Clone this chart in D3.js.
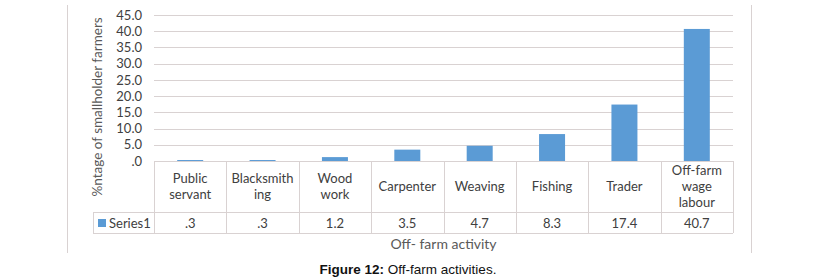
<!DOCTYPE html>
<html>
<head>
<meta charset="utf-8">
<script src="https://cdn.jsdelivr.net/npm/d3@7"></script>
<style>
  html, body { margin: 0; padding: 0; background: #fff; }
  svg { display: block; }
</style>
</head>
<body>
<svg id="chart" width="820" height="280"></svg>
<script>
const categories = [
  ["Public", "servant"],
  ["Blacksmith", "ing"],
  ["Wood", "work"],
  ["Carpenter"],
  ["Weaving"],
  ["Fishing"],
  ["Trader"],
  ["Off-farm", "wage", "labour"]
];
const values = [0.3, 0.3, 1.2, 3.5, 4.7, 8.3, 17.4, 40.7];
const yTicks = [0, 5, 10, 15, 20, 25, 30, 35, 40, 45];
const seriesName = "Series1";
const yTitle = "%ntage of smallholder farmers";
const xTitle = "Off- farm activity";
const captionBold = "Figure 12:";
const captionRest = " Off-farm activities.";

const svg = d3.select("#chart");
const font = "Lato, 'Open Sans', sans-serif";
const gridColor = "#d9d2d2";
const barColor = "#5b9bd5";

const plot = { left: 154, right: 733, top: 15, bottom: 161 };
const row1Bottom = 212, row2Bottom = 233, legendLeft = 93;

const x = d3.scaleBand().domain(d3.range(categories.length)).range([plot.left, plot.right]).paddingInner(0).paddingOuter(0);
const y = d3.scaleLinear().domain([0, 45]).range([plot.bottom, plot.top]);
const fmt = v => d3.format(".1f")(v).replace(/^0\./, ".");

// chart frame vertical edges
svg.append("line").attr("x1", 67.5).attr("x2", 67.5).attr("y1", 5).attr("y2", 253).attr("stroke", gridColor);
svg.append("line").attr("x1", 751.5).attr("x2", 751.5).attr("y1", 5).attr("y2", 253).attr("stroke", gridColor);

// gridlines
svg.append("g").selectAll("line").data(yTicks.filter(t => t > 0)).join("line")
  .attr("x1", plot.left).attr("x2", plot.right)
  .attr("y1", d => Math.round(y(d)) + 0.5).attr("y2", d => Math.round(y(d)) + 0.5)
  .attr("stroke", gridColor);

// y axis labels
const yAxis = d3.axisLeft(y).tickValues(yTicks).tickFormat(fmt).tickSize(0).tickPadding(0);
const ga = svg.append("g").attr("transform", `translate(142,0)`).call(yAxis);
ga.select(".domain").remove();
ga.selectAll("text").attr("font-family", font).attr("font-size", 13).attr("fill", "#404040");

// bars
svg.append("g").selectAll("rect").data(values).join("rect")
  .attr("x", (d, i) => x(i) + x.bandwidth() / 2 - 13)
  .attr("width", 26)
  .attr("y", d => y(d))
  .attr("height", d => y(0) - y(d))
  .attr("fill", barColor);

// data table
const tg = svg.append("g").attr("stroke", gridColor).attr("shape-rendering", "crispEdges");
tg.append("line").attr("x1", plot.left).attr("x2", plot.right).attr("y1", plot.bottom + 0.5).attr("y2", plot.bottom + 0.5);
tg.append("line").attr("x1", legendLeft).attr("x2", plot.right).attr("y1", row1Bottom + 0.5).attr("y2", row1Bottom + 0.5);
tg.append("line").attr("x1", legendLeft).attr("x2", plot.right).attr("y1", row2Bottom + 0.5).attr("y2", row2Bottom + 0.5);
tg.append("line").attr("x1", legendLeft + 0.5).attr("x2", legendLeft + 0.5).attr("y1", row1Bottom).attr("y2", row2Bottom);
const bounds = d3.range(categories.length).map(i => x(i)).concat([plot.right]);
tg.selectAll(".vb").data(bounds).join("line")
  .attr("x1", d => Math.round(d) + 0.5).attr("x2", d => Math.round(d) + 0.5)
  .attr("y1", plot.bottom).attr("y2", row2Bottom);

// category labels
const cg = svg.append("g");
categories.forEach((lines, i) => {
  const cx = x(i) + x.bandwidth() / 2;
  const cy = (plot.bottom + row1Bottom) / 2;
  const lh = 16;
  const t = cg.append("text").attr("text-anchor", "middle").attr("font-family", font)
    .attr("font-size", 13).attr("fill", "#404040");
  lines.forEach((ln, k) => {
    t.append("tspan").attr("x", cx).attr("y", cy + (k - (lines.length - 1) / 2) * lh).attr("dy", "0.35em").text(ln);
  });
});

// value row
svg.append("g").selectAll("text").data(values).join("text")
  .attr("x", (d, i) => x(i) + x.bandwidth() / 2)
  .attr("y", (row1Bottom + row2Bottom) / 2 + 1)
  .attr("dy", "0.35em")
  .attr("text-anchor", "middle")
  .attr("font-family", font).attr("font-size", 13).attr("fill", "#404040")
  .text(fmt);

// legend key
svg.append("rect").attr("x", 98).attr("y", 219).attr("width", 8).attr("height", 8).attr("fill", barColor);
svg.append("text").attr("x", 109).attr("y", (row1Bottom + row2Bottom) / 2 + 1).attr("dy", "0.35em")
  .attr("font-family", font).attr("font-size", 13).attr("fill", "#404040").text(seriesName);

// y title
svg.append("text").attr("transform", "translate(97,107) rotate(-90)")
  .attr("text-anchor", "middle").attr("dy", "0.35em")
  .attr("font-family", font).attr("font-size", 13.5).attr("fill", "#595959").text(yTitle);

// x title
svg.append("text").attr("x", (plot.left + plot.right) / 2).attr("y", 244).attr("dy", "0.35em")
  .attr("text-anchor", "middle").attr("font-family", font).attr("font-size", 14).attr("fill", "#595959").text(xTitle);

// caption
const cap = svg.append("text").attr("x", 408).attr("y", 274).attr("text-anchor", "middle")
  .attr("font-family", "'Liberation Sans', Arial, sans-serif").attr("font-size", 13.5).attr("fill", "#111");
cap.append("tspan").attr("font-weight", "bold").text(captionBold);
cap.append("tspan").text(captionRest);
</script>
</body>
</html>
